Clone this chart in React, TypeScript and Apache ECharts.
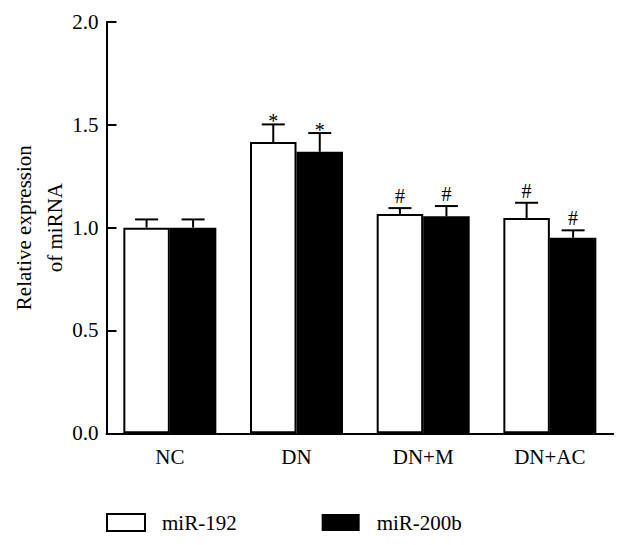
import React, { useEffect, useRef } from "react";
import * as echarts from "echarts";

const categories = ["NC", "DN", "DN+M", "DN+AC"];
const mir192 = [1.0, 1.416, 1.066, 1.047];
const mir192Err = [0.04, 0.086, 0.029, 0.074];
const mir192Marks = ["", "*", "#", "#"];
const mir200b = [1.0, 1.369, 1.055, 0.951];
const mir200bErr = [0.04, 0.091, 0.05, 0.036];
const mir200bMarks = ["", "*", "#", "#"];
const yTicks = { min: 0, max: 2, interval: 0.5 };

const FONT = '"Liberation Serif", "DejaVu Serif", serif';
const BAR_W = 46.5;

function errorSeries(values: number[], errs: number[], marks: string[], side: number) {
  return {
    type: "custom",
    silent: true,
    clip: false,
    z: 5,
    data: values.map((v, i) => [i, v, errs[i]]),
    encode: { x: 0, y: 1 },
    renderItem: (params: any, api: any) => {
      const idx = api.value(0);
      const val = api.value(1);
      const err = api.value(2);
      const base = api.coord([idx, val]);
      const top = api.coord([idx, val + err]);
      const x = base[0] + side * BAR_W / 2;
      const capHalf = 11.5;
      const mark = marks[params.dataIndex];
      const children: any[] = [
        {
          type: "line",
          shape: { x1: x, y1: base[1], x2: x, y2: top[1] },
          style: { stroke: "#000", lineWidth: 2 },
        },
        {
          type: "line",
          shape: { x1: x - capHalf, y1: top[1], x2: x + capHalf, y2: top[1] },
          style: { stroke: "#000", lineWidth: 2 },
        },
      ];
      if (mark) {
        children.push({
          type: "text",
          x: x,
          y: mark === "*" ? top[1] + 7 : top[1] - 2,
          style: {
            text: mark,
            fill: "#000",
            font: `20px ${FONT}`,
            align: "center",
            verticalAlign: "bottom",
          },
        });
      }
      return { type: "group", children };
    },
  };
}

export default function App() {
  const ref = useRef<HTMLDivElement>(null);
  useEffect(() => {
    if (!ref.current) return;
    const chart = echarts.init(ref.current, null, { renderer: "svg" });
    chart.setOption({
      animation: false,
      backgroundColor: "#fff",
      textStyle: { fontFamily: FONT },
      grid: {
        left: 106.5,
        top: 22,
        width: 506.7,
        bottom: 111.7,
        containLabel: false,
        outerBoundsMode: "none",
      },
      legend: {
        left: 106,
        top: 512,
        padding: 0,
        itemWidth: 38,
        itemHeight: 17,
        itemGap: 85,
        icon: "rect",
        data: ["miR-192", "miR-200b"],
        textStyle: { fontSize: 21, color: "#000", fontFamily: FONT, padding: [0, 0, 0, 12] },
      },
      xAxis: {
        type: "category",
        data: categories,
        axisTick: { show: false },
        axisLine: { lineStyle: { color: "#000", width: 2 } },
        axisLabel: { fontSize: 21, color: "#000", fontFamily: FONT, margin: 13 },
      },
      yAxis: {
        type: "value",
        min: yTicks.min,
        max: yTicks.max,
        interval: yTicks.interval,
        splitLine: { show: false },
        axisLine: { show: true, lineStyle: { color: "#000", width: 2 } },
        axisTick: { show: true, inside: true, length: 10, lineStyle: { color: "#000", width: 2 } },
        axisLabel: {
          fontSize: 21,
          color: "#000",
          fontFamily: FONT,
          margin: 8,
          formatter: (v: number) => v.toFixed(1),
        },
        name: "Relative expression\nof miRNA",
        nameLocation: "middle",
        nameRotate: 90,
        nameGap: 36,
        nameMoveOverlap: false,
        nameTextStyle: { fontSize: 21, color: "#000", fontFamily: FONT, lineHeight: 31 },
      },
      series: [
        {
          name: "miR-192",
          type: "bar",
          data: mir192,
          barWidth: BAR_W,
          barGap: "0%",
          itemStyle: { color: "#fff", borderColor: "#000", borderWidth: 2 },
        },
        {
          name: "miR-200b",
          type: "bar",
          data: mir200b,
          barWidth: BAR_W,
          barGap: "0%",
          itemStyle: { color: "#000", borderColor: "#000", borderWidth: 0 },
        },
        errorSeries(mir192, mir192Err, mir192Marks, -1),
        errorSeries(mir200b, mir200bErr, mir200bMarks, 1),
      ],
    });
    return () => chart.dispose();
  }, []);
  return (
    <div
      ref={ref}
      style={{ position: "fixed", left: 0, top: 0, width: 631, height: 545 }}
    />
  );
}
